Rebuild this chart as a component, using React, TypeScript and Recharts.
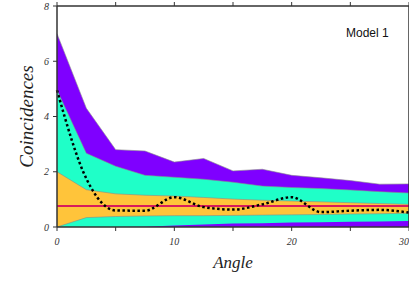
import { Area, ComposedChart, Line, ReferenceLine, XAxis, YAxis } from "recharts";

const angles = [0, 2.5, 5, 7.5, 10, 12.5, 15, 17.5, 20, 22.5, 25, 27.5, 30];
// band edges, top to bottom
const outerTop = [7.0, 4.3, 2.8, 2.75, 2.35, 2.48, 2.03, 2.09, 1.87, 1.78, 1.68, 1.55, 1.56];
const innerTop = [4.96, 2.67, 2.2, 1.87, 1.8, 1.73, 1.62, 1.48, 1.43, 1.39, 1.34, 1.28, 1.23];
const coreTop = [2.0, 1.35, 1.2, 1.15, 1.12, 1.07, 1.01, 0.97, 0.94, 0.91, 0.88, 0.85, 0.82];
const coreBottom = [0, 0.34, 0.38, 0.4, 0.41, 0.41, 0.42, 0.43, 0.44, 0.45, 0.47, 0.48, 0.5];
const floorBand = [0, 0, 0, 0.01, 0.05, 0.09, 0.13, 0.14, 0.16, 0.17, 0.19, 0.2, 0.22];
const observed = [4.95, 1.75, 0.6, 0.59, 1.08, 0.72, 0.63, 0.82, 1.08, 0.54, 0.59, 0.62, 0.52];
const expected = 0.76;

const xTicks = [0, 5, 10, 15, 20, 25, 30];
const yTicks = [0, 2, 4, 6, 8];
const yMinorTicks = [0, 1, 2, 3, 4, 5, 6, 7, 8];

const data = angles.map((angle, i) => ({
  angle,
  outerTop: outerTop[i],
  innerTop: innerTop[i],
  coreTop: coreTop[i],
  coreBottom: coreBottom[i],
  floorBand: floorBand[i],
  observed: observed[i]
}));

const purple = "#7f00ff";
const teal = "#1fffc8";
const orange = "#ffc43a";
const edge = { stroke: "#8a8a8a", strokeWidth: 0.6 };
const frame = { stroke: "#333", strokeWidth: 1.5 };
const tickFont = { fontSize: 10, fontStyle: "italic", fontFamily: "Liberation Serif", fill: "#333" };

export default function App() {
  return (
    <div style={{ position: "absolute", left: 0, top: 0, width: 409, height: 300, background: "#fff" }}>
      <ComposedChart width={409} height={300} data={data} margin={{ top: 5, right: 0, left: 0, bottom: 0 }}>
        <XAxis
          dataKey="angle"
          type="number"
          domain={[0, 30]}
          ticks={xTicks}
          tickFormatter={(v) => (v % 10 === 0 ? String(v) : "")}
          tick={tickFont}
          tickSize={4}
          tickMargin={7}
          height={73}
          axisLine={frame}
          tickLine={{ stroke: "#333" }}
          label={{
            content: ({ viewBox }: any) => (
              <text
                x={viewBox.x + viewBox.width / 2}
                y={viewBox.y + 41}
                textAnchor="middle"
                fontFamily="Liberation Serif"
                fontStyle="italic"
                fontSize={17}
                fill="#222"
              >
                Angle
              </text>
            )
          }}
        />
        <XAxis
          xAxisId="top"
          dataKey="angle"
          type="number"
          orientation="top"
          domain={[0, 30]}
          ticks={xTicks}
          tickFormatter={() => ""}
          tickSize={4}
          height={1}
          axisLine={frame}
          tickLine={{ stroke: "#333" }}
        />
        <YAxis
          type="number"
          domain={[0, 8]}
          ticks={yTicks}
          tick={tickFont}
          tickSize={4}
          tickMargin={4}
          width={57}
          axisLine={frame}
          tickLine={{ stroke: "#333" }}
          label={{
            content: ({ viewBox }: any) => {
              const cx = 33;
              const cy = viewBox.y + viewBox.height / 2;
              return (
                <text
                  x={cx}
                  y={cy}
                  transform={`rotate(-90 ${cx} ${cy})`}
                  textAnchor="middle"
                  fontFamily="Liberation Serif"
                  fontStyle="italic"
                  fontSize={19}
                  fill="#222"
                >
                  Coincidences
                </text>
              );
            }
          }}
        />
        <YAxis
          yAxisId="right"
          orientation="right"
          type="number"
          domain={[0, 8]}
          ticks={yMinorTicks}
          tickFormatter={() => ""}
          mirror
          tickSize={4}
          width={5}
          axisLine={frame}
          tickLine={{ stroke: "#333" }}
        />
        <Area type="linear" dataKey="outerTop" fill={purple} fillOpacity={1} {...edge} isAnimationActive={false} />
        <Area type="linear" dataKey="innerTop" fill={teal} fillOpacity={1} {...edge} isAnimationActive={false} />
        <Area type="linear" dataKey="coreTop" fill={orange} fillOpacity={1} {...edge} isAnimationActive={false} />
        <Area type="linear" dataKey="coreBottom" fill={teal} fillOpacity={1} {...edge} isAnimationActive={false} />
        <Area type="linear" dataKey="floorBand" fill={purple} fillOpacity={1} stroke="none" isAnimationActive={false} />
        <ReferenceLine y={expected} stroke="#d81b5c" strokeWidth={2} />
        <Line
          type="monotone"
          dataKey="observed"
          stroke="#000"
          strokeWidth={2.5}
          strokeDasharray="2.5 2.5"
          dot={false}
          isAnimationActive={false}
        />
      </ComposedChart>
      <div
        style={{
          position: "absolute",
          left: 346,
          top: 26,
          fontFamily: "Liberation Sans",
          fontSize: 12,
          color: "#111"
        }}
      >
        Model 1
      </div>
    </div>
  );
}
